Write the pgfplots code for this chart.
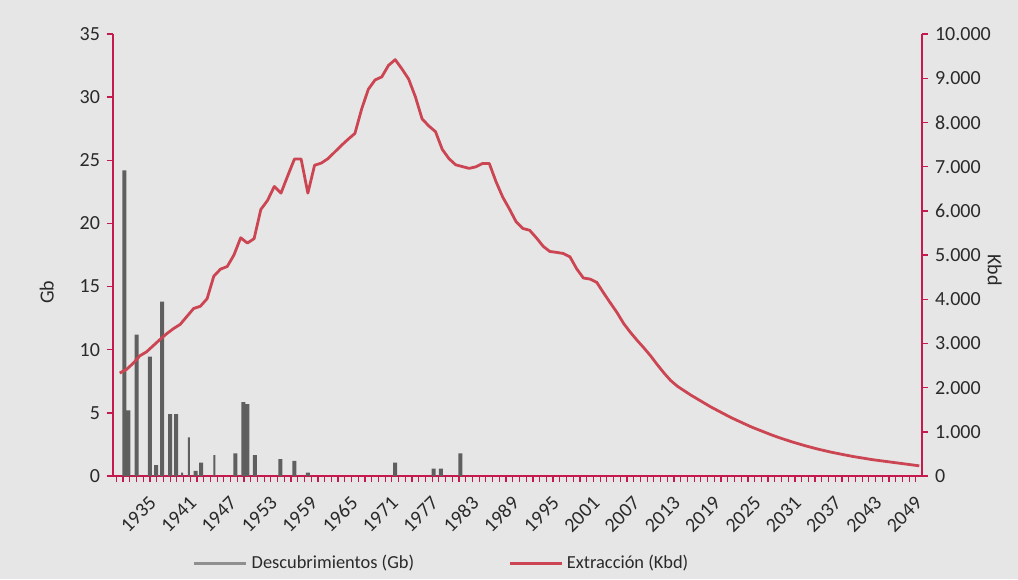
\documentclass[border=0pt]{standalone}
\usepackage{fontspec}
\setmainfont{Carlito}
\usepackage{pgfplots}
\usepackage{pgfplotstable}
\pgfplotsset{compat=1.18}

\definecolor{bgc}{HTML}{E6E6E6}
\definecolor{axc}{HTML}{C41A4E}
\definecolor{linec}{HTML}{CC4553}
\definecolor{barc}{HTML}{5F5F5F}
\definecolor{legc}{HTML}{8F8F8F}
\definecolor{txt}{HTML}{2A2A2A}

% descubrimientos (Gb)
\pgfplotstableread{
year gb
1931.7 24.2
1932.3 5.2
1933.5 11.2
1935.5 9.45
1936.4 0.87
1937.3 13.8
1938.5 4.9
1939.4 4.9
1942.3 0.4
1943.1 1.05
1948.2 1.8
1949.4 5.85
1950.0 5.7
1951.1 1.65
1954.9 1.33
1957.0 1.19
1959.0 0.27
1972.0 1.05
1977.7 0.59
1978.8 0.59
1981.7 1.8
}\descub
\pgfplotstableread{
year gb
1940.3 0.27
1941.3 3.06
1945.1 1.66
}\descubthin

\pgfplotsset{
  common/.style={
    at={(0,0)}, anchor=south west, scale only axis,
    width=404.5pt, height=221pt,
    xmin=1930, xmax=2050.4,
    axis line style={axc, line width=0.9pt, -},
    tick align=outside,
    ticklabel style={font=\fontsize{10}{12}\selectfont, text=txt},
    label style={font=\fontsize{10}{12}\selectfont, text=txt},
    /pgf/number format/assume math mode=true,
  }
}

\begin{document}
\begin{tikzpicture}
\fill[bgc] (-56.5pt,-51.5pt) rectangle (452.5pt,238pt);
\useasboundingbox (-56.5pt,-51.5pt) rectangle (452.5pt,238pt);

\begin{axis}[common,
  ymin=0, ymax=35,
  axis x line*=bottom, axis y line*=left,
  xtick={1935,1941,...,2049},
  major x tick style={draw=none},
  minor xtick={1930.5,1931.5,...,2050.5},
  minor x tick style={axc, line width=0.6pt},
  minor tick length=3pt,
  ytick={0,5,...,35},
  y tick style={axc, line width=0.7pt},
  major tick length=3pt,
  xticklabel style={rotate=45, anchor=east, inner sep=0pt, yshift=-8.5pt, xshift=-4pt},
  /pgf/number format/1000 sep={},
  ylabel={Gb},
  ylabel style={at={(axis description cs:-0.082,0.416)}, anchor=center, rotate=0},
]
\addplot[ybar, bar width=2pt, fill=barc, draw=none] table[x=year, y=gb] {\descub};
\addplot[ybar, bar width=1pt, fill=barc, draw=none] table[x=year, y=gb] {\descubthin};
\end{axis}

\begin{axis}[common,
  ymin=0, ymax=10000,
  axis x line=none, axis y line*=right,
  ytick={0,1000,...,10000},
  y tick style={axc, line width=0.7pt},
  major tick length=3pt,
  scaled y ticks=false,
  /pgf/number format/fixed,
  /pgf/number format/1000 sep={.},
  ylabel={Kbd},
  ylabel style={at={(axis description cs:1.090,0.466)}, anchor=center, rotate=180},
  legend style={at={(axis description cs:0.098,-0.198)}, anchor=west,
    draw=none, fill=none, inner sep=0pt,
    font=\fontsize{9.2}{11}\selectfont, text=txt,
    legend columns=2,
    /tikz/every even column/.append style={column sep=45pt}},
  legend image code/.code={\draw[#1] (0pt,0pt) -- (26pt,0pt);},
  legend cell align=left,
]
\addlegendimage{legc, line width=1.5pt}
\addlegendentry{Descubrimientos (Gb)}
\addplot[linec, line width=1.4pt, line join=round] coordinates {
(1931,2330) (1932,2410) (1933,2550) (1934,2720) (1935,2810) (1936,2950)
(1937,3090) (1938,3220) (1939,3335) (1940,3430) (1941,3610) (1942,3790)
(1943,3840) (1944,4010) (1945,4520) (1946,4680) (1947,4740) (1948,5000)
(1949,5390) (1950,5270) (1951,5370) (1952,6030) (1953,6235) (1954,6550)
(1955,6400) (1956,6790) (1957,7170) (1958,7170) (1959,6400) (1960,7030)
(1961,7080) (1962,7180) (1963,7330) (1964,7480) (1965,7620) (1966,7750)
(1967,8300) (1968,8750) (1969,8960) (1970,9030) (1971,9290) (1972,9420)
(1973,9210) (1974,8980) (1975,8580) (1976,8080) (1977,7920) (1978,7790)
(1979,7390) (1980,7180) (1981,7040) (1982,7000) (1983,6960) (1984,6995)
(1985,7070) (1986,7070) (1987,6660) (1988,6310) (1989,6040) (1990,5750)
(1991,5600) (1992,5560) (1993,5390) (1994,5200) (1995,5080) (1996,5060)
(1997,5035) (1998,4960) (1999,4690) (2000,4480) (2001,4455) (2002,4380)
(2003,4145) (2004,3920) (2005,3700) (2006,3450) (2007,3250) (2008,3070)
(2009,2900) (2010,2720) (2011,2520) (2012,2330) (2013,2160) (2014,2030)
(2015,1930) (2016,1830) (2017,1740) (2018,1650) (2019,1560) (2020,1480)
(2021,1400) (2022,1320) (2023,1250) (2024,1180) (2025,1110) (2026,1050)
(2027,990) (2028,930) (2029,875) (2030,825) (2031,775) (2032,730)
(2033,685) (2034,645) (2035,605) (2036,570) (2037,535) (2038,505)
(2039,475) (2040,445) (2041,420) (2042,395) (2043,370) (2044,350)
(2045,330) (2046,310) (2047,290) (2048,270) (2049,250) (2050,230)
};
\addlegendentry{Extracción (Kbd)}
\end{axis}
\end{tikzpicture}
\end{document}
